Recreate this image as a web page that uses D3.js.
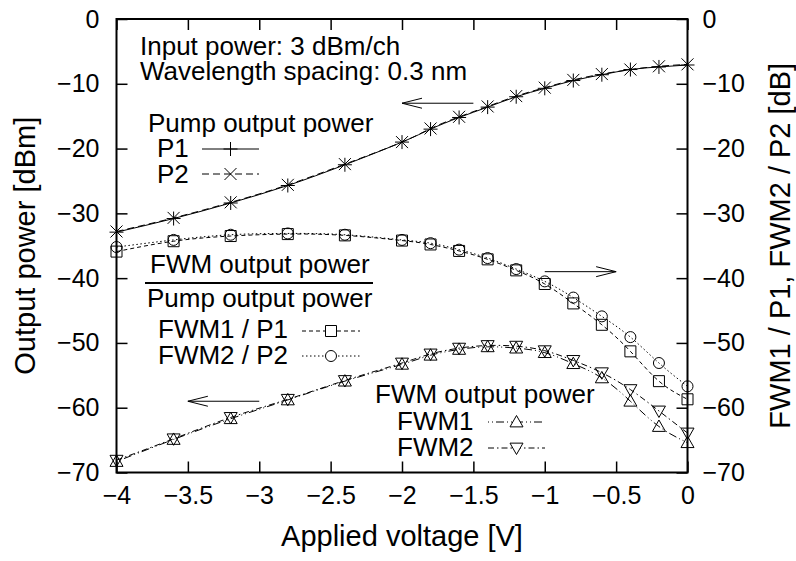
<!DOCTYPE html>
<html>
<head>
<meta charset="utf-8">
<script src="https://cdnjs.cloudflare.com/ajax/libs/d3/7.8.5/d3.min.js"></script>
<style>
body { margin: 0; background: #fff; }
text { font-family: "Liberation Sans", Arial, Helvetica, sans-serif; fill: #000; }
</style>
</head>
<body>
<svg id="chart" width="796" height="561"></svg>
<script>
// applied voltage [V]
const voltage = [-4, -3.6, -3.2, -2.8, -2.4, -2, -1.8, -1.6, -1.4, -1.2, -1, -0.8, -0.6, -0.4, -0.2, 0];

// pump output power [dBm]
const p1 = [-32.9, -30.8, -28.4, -25.7, -22.5, -19.0, -17.0, -15.2, -13.6, -12.0, -10.7, -9.5, -8.6, -7.8, -7.4, -7.1];
const p2 = [-32.8, -30.7, -28.3, -25.6, -22.4, -19.0, -16.9, -15.1, -13.5, -11.9, -10.6, -9.4, -8.5, -7.8, -7.3, -7.0];

// FWM / pump ratio [dB]
const fwm1p1 = [-35.9, -34.3, -33.5, -33.2, -33.4, -34.2, -34.8, -35.8, -37.1, -38.8, -40.9, -43.9, -47.2, -51.3, -55.9, -58.7];
const fwm2p2 = [-35.2, -34.1, -33.3, -33.1, -33.3, -34.1, -34.6, -35.6, -36.9, -38.6, -40.5, -43.0, -45.9, -49.1, -53.1, -56.7];

// FWM output power [dBm]
const fwm1 = [-68.3, -64.9, -61.7, -58.8, -55.9, -53.3, -51.9, -51.0, -50.6, -50.8, -51.5, -53.2, -55.4, -59.0, -62.9, -65.4];
const fwm2 = [-68.1, -64.8, -61.5, -58.7, -55.8, -53.1, -51.7, -50.8, -50.4, -50.5, -51.2, -52.7, -54.6, -57.2, -60.5, -63.9];

const xTicks = [-4, -3.5, -3, -2.5, -2, -1.5, -1, -0.5, 0];
const yTicks = [0, -10, -20, -30, -40, -50, -60, -70];

// arrows in data units: [x from, x to, y]
const arrows = [[-1.5, -2, -13], [-1, -0.5, -39], [-3, -3.5, -59]];

const svg = d3.select("#chart");
const plotL = 116.5, plotR = 687.5, plotT = 19, plotB = 472.5;

const x = d3.scaleLinear().domain([-4, 0]).range([plotL, plotR]);
const y = d3.scaleLinear().domain([-70, 0]).range([plotB, plotT]);   // left axis
const y2 = d3.scaleLinear().domain([-70, 0]).range([plotB, plotT]);  // right axis

const shapes = {
    plus: s => `M${-s},0H${s}M0,${-s}V${s}`,
    cross: s => `M${-s},${-s}L${s},${s}M${-s},${s}L${s},${-s}`,
    square: s => `M${-s},${-s}H${s}V${s}H${-s}Z`,
    circle: s => `M${-s},0A${s},${s} 0 1,0 ${s},0A${s},${s} 0 1,0 ${-s},0`,
    triUp: s => `M0,${-s}L${s},${s * 0.75}L${-s},${s * 0.75}Z`,
    triDown: s => `M0,${s}L${s},${-s * 0.75}L${-s},${-s * 0.75}Z`
};

const series = [
    { values: fwm1p1, scale: y2, dash: "4,3", shape: "square", size: 5.5 },
    { values: fwm2p2, scale: y2, dash: "1.5,2.5", shape: "circle", size: 5.5 },
    { values: fwm1, scale: y, dash: "1,3,1,3,8,3", shape: "triUp", size: 6.5 },
    { values: fwm2, scale: y, dash: "6,3,1.5,3", shape: "triDown", size: 6.5 },
    { values: p1, scale: y, dash: null, shape: "plus", size: 7 },
    { values: p2, scale: y, dash: "7,4", shape: "cross", size: 6 }
];

// axes (ticks point inward)
svg.append("g")
    .attr("transform", `translate(0,${plotB})`)
    .call(d3.axisBottom(x).tickValues(xTicks).tickSize(-11).tickPadding(14).tickFormat(d3.format("")))
    .call(g => g.select(".domain").remove());
svg.append("g")
    .attr("transform", `translate(0,${plotT})`)
    .call(d3.axisTop(x).tickValues(xTicks).tickSize(-11).tickFormat(""))
    .call(g => g.select(".domain").remove());
svg.append("g")
    .attr("transform", `translate(${plotL},0)`)
    .call(d3.axisLeft(y).tickValues(yTicks).tickSize(-11).tickPadding(17))
    .call(g => g.select(".domain").remove());
svg.append("g")
    .attr("transform", `translate(${plotR},0)`)
    .call(d3.axisRight(y2).tickValues(yTicks).tickSize(-11).tickPadding(15))
    .call(g => g.select(".domain").remove());

svg.selectAll(".tick line").attr("stroke", "#000").attr("stroke-width", 1.5);
svg.selectAll(".tick text").style("font-size", "25px");
svg.selectAll("g").attr("font-family", null).attr("font-size", null);

svg.append("rect")
    .attr("x", plotL).attr("y", plotT)
    .attr("width", plotR - plotL).attr("height", plotB - plotT)
    .attr("fill", "none").attr("stroke", "#000").attr("stroke-width", 2);

// axis titles
svg.append("text")
    .attr("x", (plotL + plotR) / 2).attr("y", 546)
    .attr("text-anchor", "middle").style("font-size", "29px")
    .text("Applied voltage [V]");
svg.append("text")
    .attr("transform", `translate(35,${(plotT + plotB) / 2}) rotate(-90)`)
    .attr("text-anchor", "middle").style("font-size", "29px")
    .text("Output power [dBm]");
svg.append("text")
    .attr("transform", `translate(790,${(plotT + plotB) / 2}) rotate(-90)`)
    .attr("text-anchor", "middle").style("font-size", "29px")
    .text("FWM1 / P1, FWM2 / P2 [dB]");

// curves and markers
series.forEach(s => {
    const pts = voltage.map((v, i) => [x(v), s.scale(s.values[i])]);
    svg.append("path")
        .attr("d", d3.line().curve(d3.curveNatural)(pts))
        .attr("fill", "none").attr("stroke", "#000").attr("stroke-width", 1)
        .attr("stroke-dasharray", s.dash);
    svg.append("g").selectAll("path")
        .data(pts).enter().append("path")
        .attr("transform", d => `translate(${d[0]},${d[1]})`)
        .attr("d", shapes[s.shape](s.size))
        .attr("fill", "none").attr("stroke", "#000").attr("stroke-width", 1);
});

// arrows
arrows.forEach(a => {
    const x0 = x(a[0]), x1 = x(a[1]), yy = y(a[2]);
    const dir = x1 > x0 ? 1 : -1;
    svg.append("path")
        .attr("d", `M${x0},${yy}H${x1}M${x1 - dir * 20},${yy - 5}L${x1},${yy}L${x1 - dir * 20},${yy + 5}`)
        .attr("fill", "none").attr("stroke", "#000").attr("stroke-width", 1);
});

// annotations / legend text
const notes = [
    ["Input power: 3 dBm/ch", 140, 55],
    ["Wavelength spacing: 0.3 nm", 140, 80],
    ["Pump output power", 148, 132],
    ["P1", 157, 157],
    ["P2", 157, 183],
    ["FWM output power", 150, 273],
    ["Pump output power", 147, 307],
    ["FWM1 / P1", 158, 338],
    ["FWM2 / P2", 158, 364],
    ["FWM output power", 375, 403],
    ["FWM1", 397, 430],
    ["FWM2", 397, 456]
];
svg.selectAll(".note").data(notes).enter().append("text")
    .attr("class", "note")
    .attr("x", d => d[1]).attr("y", d => d[2])
    .style("font-size", "26px")
    .text(d => d[0]);

svg.append("line")
    .attr("x1", 145).attr("x2", 373).attr("y1", 283).attr("y2", 283)
    .attr("stroke", "#000").attr("stroke-width", 2);

// legend samples: [series index, x1, x2, y]
const samples = [[4, 202, 259, 149], [5, 202, 259, 174], [0, 302, 360, 331], [1, 302, 360, 356], [2, 488, 545, 422], [3, 488, 545, 448]];
samples.forEach(k => {
    const s = series[k[0]];
    svg.append("line")
        .attr("x1", k[1]).attr("x2", k[2]).attr("y1", k[3]).attr("y2", k[3])
        .attr("stroke", "#000").attr("stroke-width", 1)
        .attr("stroke-dasharray", s.dash);
    svg.append("path")
        .attr("transform", `translate(${(k[1] + k[2]) / 2},${k[3]})`)
        .attr("d", shapes[s.shape](s.size))
        .attr("fill", "#fff").attr("stroke", "#000").attr("stroke-width", 1);
});
</script>
</body>
</html>
